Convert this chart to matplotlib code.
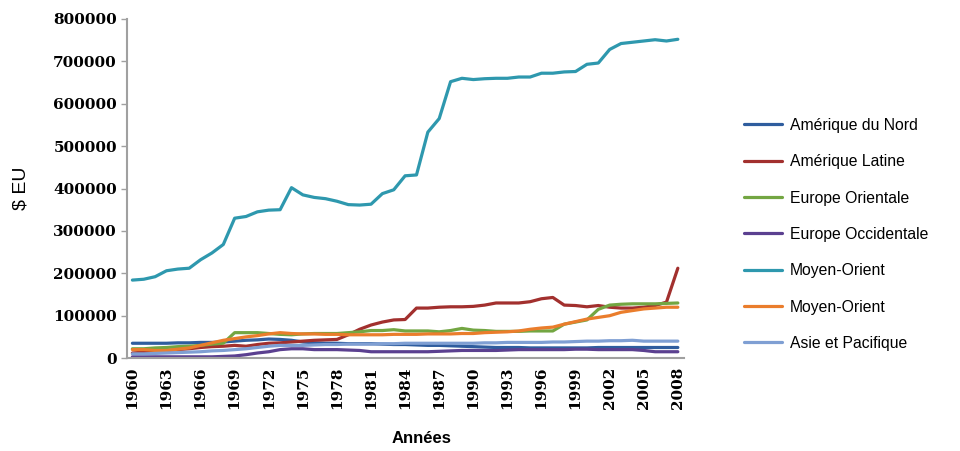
#-*- coding: utf-8 -*-

import matplotlib
matplotlib.use('Agg')
import matplotlib.pyplot as plt
import numpy as np


years = list(range(1960, 2009))

# valeurs en $ EU par region
amerique_nord = [35000, 35000, 35000, 35000, 36000, 36000, 37000, 37000, 38000, 40000,
                 42000, 43000, 45000, 44000, 42000, 38000, 36000, 35000, 35000, 34000,
                 34000, 34000, 33000, 32000, 32000, 31000, 30000, 30000, 29000, 28000,
                 27000, 26000, 25000, 25000, 25000, 24000, 24000, 24000, 24000, 24000,
                 24000, 25000, 25000, 25000, 25000, 25000, 25000, 25000, 25000]

amerique_latine = [12000, 14000, 16000, 18000, 20000, 22000, 25000, 27000, 28000, 30000,
                   28000, 32000, 35000, 36000, 38000, 40000, 42000, 43000, 44000, 55000,
                   68000, 78000, 85000, 90000, 91000, 118000, 118000, 120000, 121000, 121000,
                   122000, 125000, 130000, 130000, 130000, 133000, 140000, 143000, 125000, 124000,
                   121000, 124000, 120000, 118000, 118000, 120000, 124000, 132000, 212000]

europe_orientale = [22000, 22000, 24000, 25000, 27000, 28000, 30000, 33000, 35000, 60000,
                    60000, 60000, 58000, 56000, 55000, 57000, 58000, 58000, 58000, 60000,
                    62000, 65000, 65000, 67000, 64000, 64000, 64000, 62000, 65000, 70000,
                    66000, 65000, 63000, 63000, 63000, 64000, 64000, 64000, 80000, 85000,
                    90000, 115000, 125000, 127000, 128000, 128000, 128000, 129000, 130000]

europe_occidentale = [3000, 3000, 3000, 3000, 3000, 3000, 3000, 3000, 4000, 5000,
                      8000, 12000, 15000, 20000, 22000, 22000, 20000, 20000, 20000, 19000,
                      18000, 15000, 15000, 15000, 15000, 15000, 15000, 16000, 17000, 18000,
                      18000, 18000, 18000, 19000, 20000, 20000, 20000, 20000, 20000, 21000,
                      21000, 20000, 20000, 20000, 20000, 18000, 15000, 15000, 15000]

moyen_orient = [184000, 186000, 192000, 206000, 210000, 212000, 232000, 248000, 268000, 330000,
                334000, 345000, 349000, 350000, 402000, 385000, 379000, 376000, 370000, 362000,
                361000, 363000, 388000, 397000, 430000, 432000, 533000, 565000, 652000, 660000,
                657000, 659000, 660000, 660000, 663000, 663000, 672000, 672000, 675000, 676000,
                693000, 696000, 728000, 742000, 745000, 748000, 751000, 748000, 752000]

moyen_orient_2 = [20000, 20000, 18000, 18000, 21000, 24000, 30000, 36000, 42000, 46000,
                  50000, 53000, 57000, 60000, 58000, 57000, 57000, 56000, 56000, 55000,
                  55000, 55000, 55000, 56000, 56000, 56000, 57000, 57000, 57000, 58000,
                  58000, 60000, 61000, 62000, 64000, 68000, 71000, 73000, 80000, 86000,
                  92000, 96000, 100000, 108000, 112000, 116000, 118000, 120000, 120000]

asie_pacifique = [10000, 10000, 11000, 12000, 13000, 14000, 15000, 17000, 18000, 20000,
                  22000, 25000, 28000, 30000, 30000, 30000, 31000, 32000, 32000, 33000,
                  33000, 33000, 34000, 34000, 35000, 35000, 35000, 35000, 35000, 35000,
                  35000, 36000, 36000, 37000, 37000, 37000, 37000, 38000, 38000, 39000,
                  40000, 40000, 41000, 41000, 42000, 40000, 40000, 40000, 40000]

series = [
    ('Amérique du Nord', amerique_nord, '#2f5d9e'),
    ('Amérique Latine', amerique_latine, '#a2302e'),
    ('Europe Orientale', europe_orientale, '#73a642'),
    ('Europe Occidentale', europe_occidentale, '#5b4090'),
    ('Moyen-Orient', moyen_orient, '#2e98ae'),
    ('Moyen-Orient', moyen_orient_2, '#ea7d2c'),
    ('Asie et Pacifique', asie_pacifique, '#7f9fd3'),
]


fig = plt.figure(figsize=(9.6, 4.51), dpi=100)
ax = fig.add_axes([0.132, 0.206, 0.580, 0.752])

x = np.arange(len(years))
for name, vals, col in series:
    ax.plot(x, vals, color=col, lw=2.3, label=name, solid_capstyle='round')

ax.set_xlim(-0.5, len(years) - 0.5)
ax.set_ylim(0, 800000)
ax.set_yticks(np.arange(0, 800001, 100000))

tick_font = {'family': 'DejaVu Serif', 'weight': 'bold', 'size': 11}
ax.set_yticklabels([str(v) for v in range(0, 800001, 100000)], fontdict=tick_font)
ax.set_xticks(x[::3])
ax.set_xticklabels([str(y) for y in years[::3]], fontdict=tick_font, rotation=90)

for s in ['top', 'right']:
    ax.spines[s].set_visible(False)
for s in ['left', 'bottom']:
    ax.spines[s].set_color('#a0a0a0')
    ax.spines[s].set_linewidth(1.5)
ax.tick_params(axis='y', color='#a0a0a0', length=4, width=1, pad=3)
ax.tick_params(axis='x', length=0, pad=6)

ax.set_xlabel('Années', fontsize=12, fontweight='bold', family='Liberation Sans')
ax.xaxis.set_label_coords(0.53, -0.215)
ax.set_ylabel('$ EU', fontsize=14, family='Liberation Sans')
ax.yaxis.set_label_coords(-0.175, 0.5)

leg = ax.legend(loc='upper left', bbox_to_anchor=(1.084, 0.75), frameon=False,
                prop={'family': 'Liberation Sans', 'size': 11.3},
                handlelength=2.4, handletextpad=0.5, labelspacing=1.36)

fig.savefig('out.png', dpi=100)
